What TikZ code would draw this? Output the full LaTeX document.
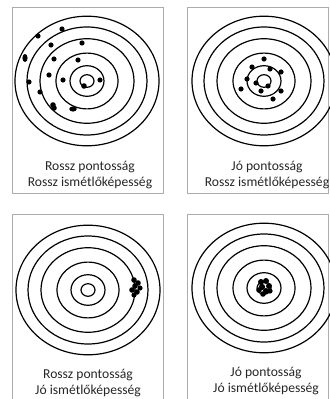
\documentclass[tikz,border=0pt]{standalone}
\usepackage{fontspec}
\setmainfont{Carlito}
\usepackage{tikz}
\usetikzlibrary{positioning}

\begin{document}
\begin{tikzpicture}[
  x=0.75pt, y=-0.75pt,
  % --- styles ---
  frame/.style={draw=gray!65, line width=0.6pt},
  ring/.style={draw=black, line width=0.9pt},
  hit/.style={fill=black},
  caption/.style={font=\fontsize{10.2}{11.4}\selectfont, align=center,
    inner sep=0pt, text=black!85},
]
\useasboundingbox (0,0) rectangle (329,399);

% Frames
\draw[frame] (12,7) rectangle (163,193);
\draw[frame] (187,7) rectangle (328.5,193);
\draw[frame] (12,214) rectangle (163,402);
\draw[frame] (187,214) rectangle (328.5,402);

% Target centres
\coordinate (c1) at (87,81);
\coordinate (c2) at (264,81);
\coordinate (c3) at (88,290);
\coordinate (c4) at (264,288);

% Rings
\foreach \c in {c1,c2,c3,c4}
  \foreach \r in {72,60,47,31,17,7}
    \draw[ring] (\c) ellipse [x radius=\r, y radius=0.9*\r];

% Panel 1: scattered hits
\fill[hit] (62,29) circle [radius=2.6];
\fill[hit] (38,36) circle [radius=2.6];
\fill[hit] (51,45) circle [radius=2.6];
\fill[hit] (82,43) circle [radius=2.6];
\fill[hit] (25,58) ellipse [x radius=2.6, y radius=4];
\fill[hit] (54,59) circle [radius=2.6];
\fill[hit] (78,60) circle [radius=2.6];
\fill[hit] (49,75) circle [radius=2.6];
\fill[hit] (63,80) circle [radius=2.6];
\fill[hit] (100,80) circle [radius=2.6];
\fill[hit] (29,82) circle [radius=2.6];
\fill[hit] (84,86) circle [radius=2.8];
\fill[hit] (40,92) circle [radius=2.6];
\fill[hit] (53,105) circle [radius=2.8];
\fill[hit] (54,108) circle [radius=2.8];
\fill[hit] (73,109) ellipse [x radius=3.8, y radius=2.6];

% Panel 2: hits round the centre
\fill[hit] (264,59) circle [radius=2.6];
\fill[hit] (252,67) circle [radius=2.6];
\fill[hit] (270,69) circle [radius=2.6];
\fill[hit] (281,72) circle [radius=2.6];
\fill[hit] (247,79) circle [radius=2.6];
\fill[hit] (256,83) circle [radius=2.6];
\fill[hit] (268,86) circle [radius=2.6];
\fill[hit] (261,91) circle [radius=2.6];
\fill[hit] (281,91) circle [radius=2.6];
\fill[hit] (241,89) circle [radius=2.6];
\fill[hit] (273,99) circle [radius=2.6];

% Panel 3: tight group off centre
\fill[hit] (134,280) circle [radius=2.8];
\fill[hit] (138,283) circle [radius=2.8];
\fill[hit] (135,286) circle [radius=2.8];
\fill[hit] (140,288) circle [radius=2.6];
\fill[hit] (132,290) circle [radius=2.8];
\fill[hit] (137,292) circle [radius=2.8];
\fill[hit] (134,295) circle [radius=2.6];

% Panel 4: tight group in the centre
\fill[hit] (261,282) circle [radius=3];
\fill[hit] (266,281) circle [radius=3];
\fill[hit] (269,286) circle [radius=3];
\fill[hit] (262,287) circle [radius=3.2];
\fill[hit] (259,290) circle [radius=2.8];
\fill[hit] (266,291) circle [radius=3];
\fill[hit] (263,294) circle [radius=2.8];
\fill[hit] (270,291) circle [radius=2.6];

% Captions
\node[caption] (cap1) at (90,175) {Rossz pontosság\\Rossz ismétlőképesség};
\node[caption] (cap2) at (267,175) {Jó pontosság\\Rossz ismétlőképesség};
\node[caption] (cap3) at (88,383) {Rossz pontosság\\Jó ismétlőképesség};
\node[caption] (cap4) at (266,381) {Jó pontosság\\Jó ismétlőképesség};

\end{tikzpicture}
\end{document}
